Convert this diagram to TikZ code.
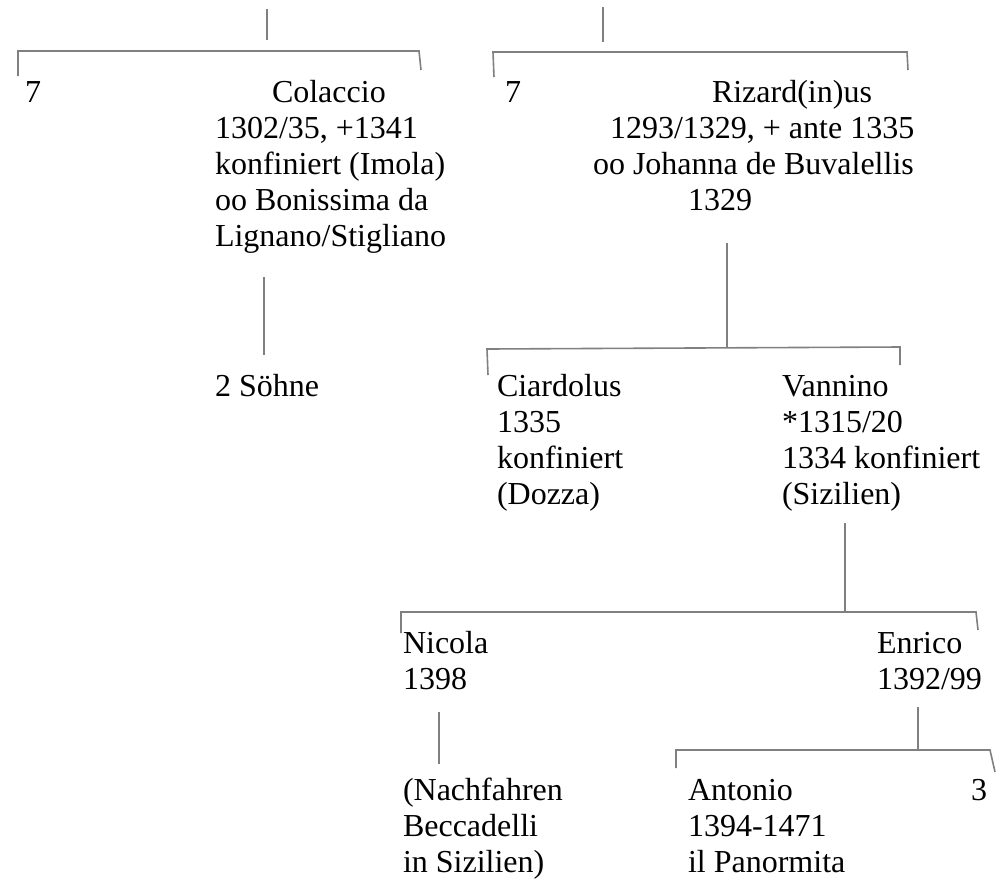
\documentclass[tikz,border=0pt]{standalone}
\usepackage{fontspec}
\setmainfont{Liberation Serif}
\definecolor{linegray}{RGB}{128,128,128}
\tikzset{
  txt/.style={anchor=base west, inner sep=0pt, outer sep=0pt, font=\fontsize{32}{36}\selectfont},
  conn/.style={draw=linegray, line width=1.6pt}
}
\newcommand{\blk}[1]{\begin{tabular}[t]{@{}l@{}}#1\end{tabular}}
\begin{document}
\begin{tikzpicture}[x=1pt,y=-1pt]
\useasboundingbox[fill=white] (0,0) rectangle (1003,884);
% texts
\node[txt] (n7a) at (25,102) {7};
\node[txt] (colaccio) at (215,102) {\blk{\hspace*{57pt}Colaccio\\1302/35, +1341\\konfiniert (Imola)\\oo Bonissima da\\Lignano/Stigliano}};
\node[txt] (soehne) at (215,396) {2 Söhne};
\node[txt] (n7b) at (505,102) {7};
\node[txt] (rizard) at (593,102) {\blk{\hspace*{119pt}Rizard(in)us\\\hspace*{17pt}1293/1329, + ante 1335\\oo Johanna de Buvalellis\\\hspace*{95pt}1329}};
\node[txt] (ciardolus) at (497,396) {\blk{Ciardolus\\1335\\konfiniert\\(Dozza)}};
\node[txt] (vannino) at (782,396) {\blk{Vannino\\\relax{*}1315/20\\1334 konfiniert\\(Sizilien)}};
\node[txt] (nicola) at (403,653) {\blk{Nicola\\1398}};
\node[txt] (enrico) at (877,653) {\blk{Enrico\\1392/99}};
\node[txt] (nachf) at (403,800) {\blk{(Nachfahren\\Beccadelli\\in Sizilien)}};
\node[txt] (antonio) at (688,800) {\blk{Antonio\\1394-1471\\il Panormita}};
\node[txt] (n3) at (971,800) {3};
% connector points
\coordinate (pA1) at (267,9);   \coordinate (pA2) at (267,40);
\coordinate (pA3) at (18,76);   \coordinate (pA4) at (18,51);
\coordinate (pA5) at (419,51);  \coordinate (pA6) at (421,70);
\coordinate (pB1) at (603,7);   \coordinate (pB2) at (603,42);
\coordinate (pB3) at (494,77);  \coordinate (pB4) at (493,52);
\coordinate (pB5) at (907,52);  \coordinate (pB6) at (908,70);
\coordinate (pC1) at (264,277); \coordinate (pC2) at (264,355);
\coordinate (pR1) at (727,243); \coordinate (pR2) at (727,348);
\coordinate (pR3) at (488,375); \coordinate (pR4) at (487,349);
\coordinate (pR5) at (900,347); \coordinate (pR6) at (900,365);
\coordinate (pV1) at (845,523); \coordinate (pV2) at (845,612);
\coordinate (pV3) at (401,633); \coordinate (pV4) at (401,612);
\coordinate (pV5) at (976,612); \coordinate (pV6) at (978,630);
\coordinate (pN1) at (439,712); \coordinate (pN2) at (439,764);
\coordinate (pE1) at (918,707); \coordinate (pE2) at (918,750);
\coordinate (pE3) at (676,768); \coordinate (pE4) at (676,750);
\coordinate (pE5) at (990,750); \coordinate (pE6) at (995,772);
% connectors
\draw[conn] (pA1) -- (pA2);
\draw[conn] (pA3) -- (pA4) -- (pA5) -- (pA6);
\draw[conn] (pB1) -- (pB2);
\draw[conn] (pB3) -- (pB4) -- (pB5) -- (pB6);
\draw[conn] (pC1) -- (pC2);
\draw[conn] (pR1) -- (pR2);
\draw[conn] (pR3) -- (pR4) -- (pR5) -- (pR6);
\draw[conn] (pV1) -- (pV2);
\draw[conn] (pV3) -- (pV4) -- (pV5) -- (pV6);
\draw[conn] (pN1) -- (pN2);
\draw[conn] (pE1) -- (pE2);
\draw[conn] (pE3) -- (pE4) -- (pE5) -- (pE6);
\end{tikzpicture}
\end{document}
